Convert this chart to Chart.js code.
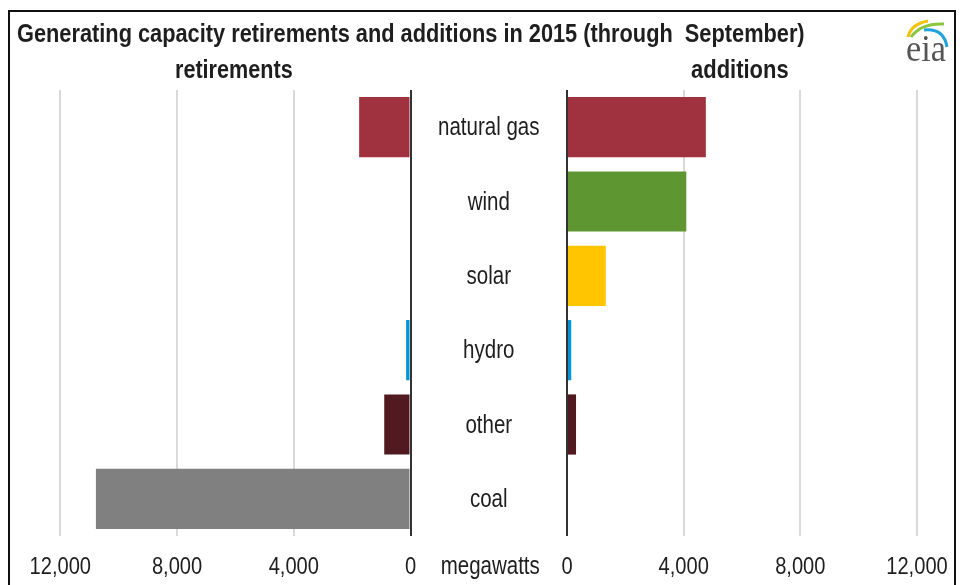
<!DOCTYPE html>
<html>
<head>
<meta charset="utf-8">
<script src="https://cdn.jsdelivr.net/npm/chart.js@4.4.1/dist/chart.umd.min.js"></script>
<style>
  html, body { margin: 0; padding: 0; background: #fff; }
  #wrap { position: relative; width: 965px; height: 585px; overflow: hidden; background: #fff;
          font-family: "Liberation Sans", Arial, sans-serif; color: #1e1e1e; }
  #frame { position: absolute; left: 8px; top: 10px; width: 944px; height: 600px; border: 2px solid #111; box-sizing: content-box; }
  canvas { position: absolute; left: 0; top: 0; }
  .t { position: absolute; white-space: nowrap; font-size: 26px; line-height: 26px; font-weight: bold; transform-origin: 0 0; }
  #title { left: 17px; top: 20px; }
  #retire { top: 56px; }
  #add { top: 56px; }
  #logo { position: absolute; left: 900px; top: 16px; }
</style>
</head>
<body>
<div id="wrap">
  <div id="frame"></div>
  <canvas id="left" width="965" height="585"></canvas>
  <canvas id="right" width="965" height="585"></canvas>
  <div class="t" id="title">Generating capacity retirements and additions in 2015 (through&nbsp; September)</div>
  <div class="t" id="retire">retirements</div>
  <div class="t" id="add">additions</div>
  <svg id="logo" width="56" height="52" viewBox="900 16 56 52">
    <path d="M908,37 Q911,24 928,21" fill="none" stroke="#F4C20D" stroke-width="3"/>
    <path d="M911,37 Q921,23 944,24" fill="none" stroke="#8CC63E" stroke-width="3"/>
    <path d="M924,30 Q944,28 947,47" fill="none" stroke="#22A3DD" stroke-width="3"/>
    <text x="906" y="61" font-family="Liberation Serif, DejaVu Serif, serif" font-size="38" fill="#555" textLength="40" lengthAdjust="spacingAndGlyphs">eia</text>
  </svg>
</div>
<script>
const categories = ['natural gas', 'wind', 'solar', 'hydro', 'other', 'coal'];
const retirements = [1760, 0, 0, 150, 900, 10780];
const additions = [4760, 4090, 1330, 145, 310, 0];
const tickValues = [0, 4000, 8000, 12000];
const unitLabel = 'megawatts';
const barColors = ['#A0323F', '#5E9732', '#FFC600', '#0096D6', '#511A20', '#808080'];

const FONT = '"Liberation Sans", Arial, sans-serif';
const GRID = '#d9d9d9';
const ZERO = '#333333';
const TEXT = '#1e1e1e';
const NARROW = 0.82;

function fmt(v) { return v.toLocaleString('en-US'); }

function narrowText(ctx, text, x, y, size) {
  ctx.save();
  ctx.font = size + 'px ' + FONT;
  ctx.fillStyle = TEXT;
  ctx.textAlign = 'center';
  ctx.textBaseline = 'alphabetic';
  ctx.translate(x, y);
  ctx.scale(NARROW, 1);
  ctx.fillText(text, 0, 0);
  ctx.restore();
}

// draws the axis labels of the library's scales in a condensed face
const narrowLabels = {
  id: 'narrowLabels',
  afterDraw(chart) {
    const ctx = chart.ctx;
    const xs = chart.scales.x;
    const base = chart.chartArea.bottom + 37.5;
    xs.ticks.forEach((t, i) => {
      narrowText(ctx, fmt(t.value), xs.getPixelForTick(i), base, 24.5);
    });
    const ys = chart.scales.y;
    if (ys && ys.options.display) {
      const cx = (ys.left + ys.right) / 2;
      ys.ticks.forEach((t, i) => {
        narrowText(ctx, categories[i], cx, ys.getPixelForTick(i) + 8, 25);
      });
      narrowText(ctx, unitLabel, cx + 1.5, base, 25);
    }
  }
};

function xScale(reverse) {
  return {
    type: 'linear', min: 0, max: 12000, reverse: reverse,
    afterBuildTicks: (s) => { s.ticks = tickValues.map(v => ({ value: v })); },
    afterFit: (s) => { s.height = 49; },
    grid: {
      drawTicks: false,
      lineWidth: 2,
      color: (c) => (c.tick && c.tick.value === 0 ? ZERO : GRID)
    },
    border: { display: false },
    ticks: { display: false }
  };
}

function fitText(id, left, width) {
  const el = document.getElementById(id);
  const w = el.offsetWidth;
  el.style.left = left + 'px';
  el.style.transform = 'scaleX(' + (width / w) + ')';
}

function build() {
  fitText('title', 17.3, 788);
  fitText('retire', 175, 118);
  fitText('add', 691, 98);

  new Chart(document.getElementById('left'), {
    type: 'bar',
    data: { labels: categories, datasets: [{ data: retirements, backgroundColor: barColors, borderWidth: 0,
      categoryPercentage: 1, barPercentage: 0.81 }] },
    options: {
      responsive: false, animation: false, indexAxis: 'y',
      layout: { padding: { left: 60.3, right: 965 - 410.5, top: 90, bottom: 0 } },
      plugins: { legend: { display: false }, tooltip: { enabled: false } },
      scales: {
        x: xScale(true),
        y: { display: false }
      }
    },
    plugins: [narrowLabels]
  });
  new Chart(document.getElementById('right'), {
    type: 'bar',
    data: { labels: categories, datasets: [{ data: additions, backgroundColor: barColors, borderWidth: 0,
      categoryPercentage: 1, barPercentage: 0.81 }] },
    options: {
      responsive: false, animation: false, indexAxis: 'y',
      layout: { padding: { left: 410.5, right: 965 - 917, top: 90, bottom: 0 } },
      plugins: { legend: { display: false }, tooltip: { enabled: false } },
      scales: {
        x: xScale(false),
        y: {
          display: true,
          position: 'left',
          afterFit: (s) => { s.width = 567 - 410.5; },
          grid: { display: false, drawTicks: false },
          border: { display: false },
          ticks: { display: false }
        }
      }
    },
    plugins: [narrowLabels]
  });
}

build();
</script>
</body>
</html>
